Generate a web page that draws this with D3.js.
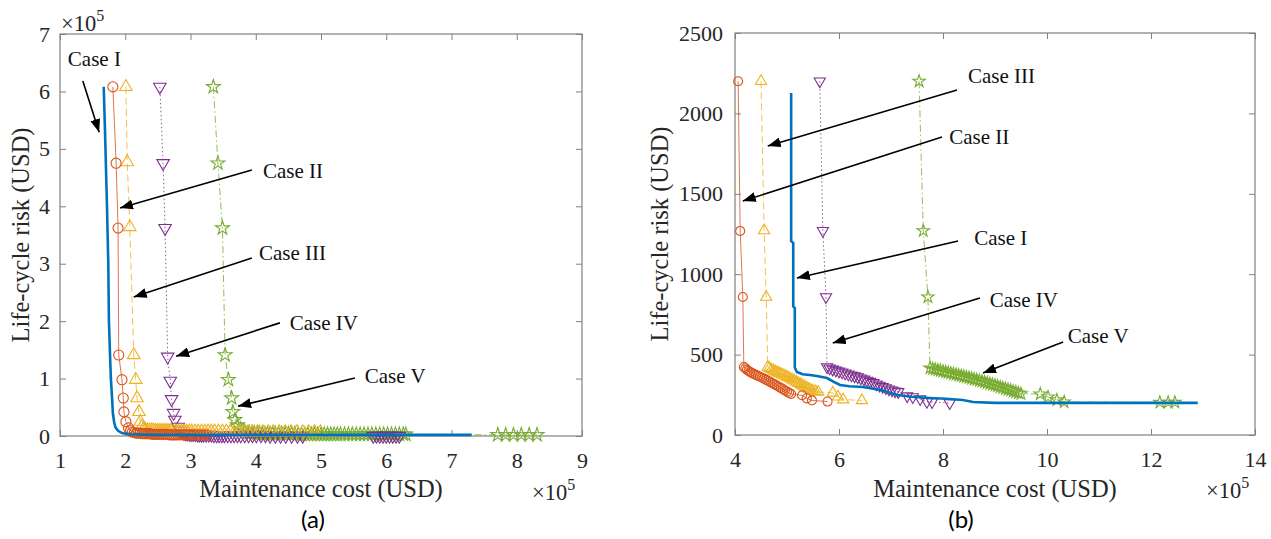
<!DOCTYPE html>
<html>
<head>
<meta charset="utf-8">
<script src="https://cdn.jsdelivr.net/npm/d3@7"></script>
<style>
  body { margin: 0; background: #fff; }
  svg { display: block; }
</style>
</head>
<body>
<div id="chart"></div>
<script>
// ---------------- data (cost in 1e5 USD) ----------------
// panel (a): risk in 1e5 USD
const caseI_a = [[1.67,6.08],[1.69,5.3],[1.72,4.0],[1.74,3.0],[1.75,2.0],[1.77,1.3],[1.78,1.0],[1.80,0.62],[1.81,0.40],[1.83,0.24],[1.85,0.15],[1.89,0.09],[1.95,0.05],[2.05,0.03],[2.4,0.02],[3.5,0.02],[5.0,0.02],[6.3,0.02],[7.31,0.02]];
const caseII_a = [[1.81,6.08],[1.86,4.75],[1.89,3.62],[1.90,1.41],[1.95,0.98],[1.97,0.66],[1.98,0.42],[2.01,0.25],[2.05,0.14],[2.08,0.09],[2.11,0.07],[2.14,0.06],
  [2.17,0.05],[2.20,0.05],[2.23,0.05],[2.26,0.04],[2.29,0.04],[2.32,0.04],[2.35,0.04],[2.38,0.04],[2.41,0.03],[2.44,0.03],[2.47,0.03],[2.50,0.03],[2.53,0.03],[2.56,0.03],[2.59,0.03],[2.62,0.03],[2.65,0.03],[2.68,0.02],[2.71,0.02],[2.74,0.02],[2.77,0.02],[2.80,0.02],[2.84,0.02],[2.88,0.02],[2.92,0.02],[2.96,0.02],[3.00,0.02],[3.05,0.02],[3.10,0.02],[3.15,0.02],[3.20,0.02],[3.25,0.02]];
const caseIII_a = [[2.01,6.08],[2.03,4.77],[2.07,3.64],[2.13,1.41],[2.16,0.98],[2.18,0.66],[2.21,0.42],[2.23,0.25],[2.25,0.16],[2.28,0.12],
  [2.31,0.11],[2.34,0.10],[2.37,0.10],[2.40,0.10],[2.43,0.10],[2.46,0.09],[2.49,0.09],[2.52,0.09],[2.55,0.09],[2.58,0.09],[2.61,0.09],[2.64,0.09],[2.67,0.09],[2.70,0.09],[2.74,0.08],[2.78,0.08],[2.82,0.08],[2.86,0.08],[2.90,0.08],[2.94,0.08],[2.98,0.08],[3.02,0.08],[3.07,0.08],[3.12,0.08],[3.17,0.08],[3.22,0.08],[3.27,0.08],[3.32,0.08],[3.37,0.08],[3.43,0.08],[3.49,0.08],[3.55,0.08],[3.61,0.08],[3.67,0.07],[3.74,0.07],[3.81,0.07],[3.88,0.07],[3.95,0.07],[4.03,0.07],[4.11,0.07],[4.19,0.07],[4.27,0.07],[4.36,0.07],[4.45,0.07],[4.54,0.07],[4.63,0.07],[4.72,0.07],[4.81,0.07],[4.90,0.07],[4.99,0.07]];
const caseIV_a = [[2.53,6.08],[2.58,4.75],[2.61,3.62],[2.65,1.38],[2.69,0.96],[2.71,0.64],[2.74,0.40],[2.76,0.28],[2.81,0.16],[2.85,0.09],[2.90,0.05],
  [2.93,0.04],[2.96,0.04],[2.99,0.03],[3.02,0.03],[3.05,0.03],[3.08,0.03],[3.11,0.02],[3.14,0.02],[3.17,0.02],[3.20,0.02],[3.24,0.02],[3.28,0.02],[3.32,0.02],[3.36,0.01],[3.40,0.01],[3.44,0.01],[3.48,0.01],[3.52,0.01],[3.57,0.01],[3.62,0.01],[3.67,0.01],[3.72,0.01],[3.77,0.01],[3.83,0.01],[3.89,0.01],[3.95,0.01],[4.01,0.01],[4.08,0.01],[4.15,0.01],[4.22,0.0],[4.30,0.0],[4.38,0.0],[4.46,0.0],[4.55,0.0],[4.64,0.0],[4.72,0.0],
  [5.80,0.0],[5.85,0.0],[5.90,0.0],[5.95,0.0],[6.00,0.0],[6.05,0.0],[6.10,0.0],[6.15,0.0],[6.20,0.0]];
const caseV_a = [[3.35,6.08],[3.42,4.75],[3.49,3.62],[3.53,1.41],[3.58,0.98],[3.63,0.66],[3.65,0.42],[3.68,0.28],[3.72,0.19],[3.77,0.12],[3.83,0.08],[3.90,0.06],
  [3.94,0.05],[3.98,0.05],[4.02,0.05],[4.06,0.05],[4.10,0.04],[4.14,0.04],[4.18,0.04],[4.22,0.04],[4.26,0.04],[4.30,0.04],[4.35,0.04],[4.40,0.04],[4.45,0.04],[4.50,0.04],[4.55,0.04],[4.60,0.04],[4.65,0.03],[4.70,0.03],[4.75,0.03],[4.80,0.03],[4.85,0.03],[4.90,0.03],[4.95,0.03],[5.00,0.03],[5.05,0.03],[5.10,0.03],[5.15,0.03],[5.20,0.03],[5.25,0.03],[5.30,0.03],[5.36,0.03],[5.42,0.03],[5.48,0.03],[5.54,0.03],[5.60,0.03],[5.66,0.03],[5.72,0.03],[5.78,0.03],[5.84,0.03],[5.90,0.03],[5.96,0.03],[6.02,0.03],[6.08,0.03],[6.14,0.03],[6.20,0.03],[6.26,0.03],[6.30,0.03],
  [7.71,0.02],[7.83,0.02],[7.95,0.02],[8.07,0.02],[8.19,0.02],[8.31,0.02]];

// panel (b): risk in USD
const caseI_b = [[5.08,2127],[5.08,1800],[5.08,1500],[5.08,1205],[5.12,1195],[5.12,800],[5.15,790],[5.15,420],[5.19,392],[5.30,378],[5.44,373],[5.60,365],[5.77,354],[5.90,330],[6.02,311],[6.20,303],[6.46,299],[6.80,280],[7.12,249],[7.40,238],[7.75,230],[8.05,225],[8.38,218],[8.58,205],[9.0,200],[10.5,200],[12.9,200]];
const caseII_b = [[4.06,2200],[4.10,1269],[4.15,858],[4.17,423],[4.20,415],[4.23,405],[4.26,398],[4.29,392],[4.32,386],[4.36,380],[4.40,374],[4.44,368],[4.48,362],[4.52,356],[4.56,350],[4.60,343],[4.64,336],[4.68,329],[4.72,322],[4.76,315],[4.80,308],[4.84,300],[4.88,293],[4.92,285],[4.96,277],[5.00,270],[5.04,262],[5.08,255],[5.29,247],[5.38,228],[5.48,215],[5.78,208]];
const caseIII_b = [[4.50,2200],[4.56,1272],[4.60,858],[4.63,423],[4.66,415],[4.70,407],[4.74,400],[4.78,394],[4.82,388],[4.86,382],[4.90,376],[4.94,370],[4.98,364],[5.02,358],[5.06,351],[5.10,344],[5.14,337],[5.18,330],[5.22,322],[5.26,315],[5.30,307],[5.34,300],[5.38,293],[5.42,286],[5.46,280],[5.50,274],[5.55,270],[5.60,267],[5.88,262],[5.98,238],[6.08,220],[6.44,215]];
const caseIV_b = [[5.63,2200],[5.69,1270],[5.75,858],[5.77,423],[5.82,415],[5.88,408],[5.94,402],[6.00,396],[6.06,390],[6.12,384],[6.18,378],[6.24,372],[6.30,366],[6.36,360],[6.42,353],[6.48,346],[6.54,339],[6.60,332],[6.66,324],[6.72,316],[6.78,308],[6.84,300],[6.90,292],[6.96,285],[7.02,278],[7.08,272],[7.14,268],[7.31,242],[7.42,236],[7.56,224],[7.69,207],[7.79,205],[8.13,199]];
const caseV_b = [[7.54,2200],[7.62,1270],[7.71,858],[7.75,417],[7.80,412],[7.85,408],[7.90,404],[7.95,400],[8.00,396],[8.05,392],[8.10,388],[8.15,384],[8.20,380],[8.25,376],[8.30,372],[8.35,368],[8.40,364],[8.45,360],[8.50,356],[8.55,352],[8.60,347],[8.65,343],[8.70,338],[8.75,334],[8.80,329],[8.85,324],[8.90,319],[8.95,314],[9.00,309],[9.05,304],[9.10,298],[9.15,293],[9.20,288],[9.25,283],[9.30,278],[9.35,272],[9.40,267],[9.45,261],[9.50,256],[9.87,255],[10.02,236],[10.19,218],[10.33,205],[12.17,203],[12.33,203],[12.46,203]];

const xTicksA = [1,2,3,4,5,6,7,8,9];
const yTicksA = [0,1,2,3,4,5,6,7];
const xTicksB = [4,6,8,10,12,14];
const yTicksB = [0,500,1000,1500,2000,2500];

// annotations: label position, arrow start, arrow tip (data units)
const notesA = [
  {text: "Case I",   tx: 1.12, ty: 6.44, x1: 1.35, y1: 6.18, x2: 1.60, y2: 5.29},
  {text: "Case II",  tx: 4.11, ty: 4.49, x1: 3.94, y1: 4.63, x2: 1.92, y2: 3.97},
  {text: "Case III", tx: 4.05, ty: 3.06, x1: 3.94, y1: 3.10, x2: 2.13, y2: 2.42},
  {text: "Case IV",  tx: 4.52, ty: 1.85, x1: 4.37, y1: 1.97, x2: 2.78, y2: 1.39},
  {text: "Case V",   tx: 5.67, ty: 0.92, x1: 5.52, y1: 1.01, x2: 3.73, y2: 0.52}
];
const notesB = [
  {text: "Case III", tx: 8.48, ty: 2189, x1: 8.27, y1: 2146, x2: 4.63, y2: 1797},
  {text: "Case II",  tx: 8.12, ty: 1810, x1: 7.98, y1: 1853, x2: 4.15, y2: 1455},
  {text: "Case I",   tx: 8.60, ty: 1182, x1: 8.29, y1: 1206, x2: 5.19, y2: 976},
  {text: "Case IV",  tx: 8.90, ty: 796,  x1: 8.71, y1: 852,  x2: 5.88, y2: 572},
  {text: "Case V",   tx: 10.40, ty: 572, x1: 10.31, y1: 578, x2: 8.77, y2: 386}
];

// ---------------- styles ----------------
const serif = "'Liberation Serif', 'Times New Roman', serif";
const styles = {
  I:   {color: "#0072BD", width: 2.6, dash: null,          marker: null},
  II:  {color: "#D95319", width: 1,   dash: null,          marker: "circle"},
  III: {color: "#EDB120", width: 1,   dash: "7,4",         marker: "up"},
  IV:  {color: "#7E2F8E", width: 1,   dash: "1.5,2.5",     marker: "down"},
  V:   {color: "#77AC30", width: 1,   dash: "7,3,1.5,3",   marker: "star"}
};

const W = 1271, H = 539;
const svg = d3.select("#chart").append("svg")
  .attr("width", W).attr("height", H)
  .attr("viewBox", [0, 0, W, H])
  .style("background", "#fff");

const defs = svg.append("defs");
defs.append("marker")
  .attr("id", "arrowhead")
  .attr("markerUnits", "userSpaceOnUse")
  .attr("markerWidth", 14).attr("markerHeight", 10)
  .attr("refX", 13).attr("refY", 5)
  .attr("orient", "auto")
  .append("path")
  .attr("d", "M0,0 L13,5 L0,10 Z")
  .attr("fill", "#000");

function symbolPath(kind, size) {
  if (kind === "circle") return d3.symbol(d3.symbolCircle, size)();
  if (kind === "star") return d3.symbol(d3.symbolStar, size * 0.75)();
  return d3.symbol(d3.symbolTriangle, size * 0.85)();
}

function drawPanel(p) {
  const x = d3.scaleLinear(p.xDomain, p.xRange);
  const y = d3.scaleLinear(p.yDomain, p.yRange);
  const g = svg.append("g");

  // ticks inside the box, on all four sides
  const axisStyle = sel => {
    sel.select(".domain").remove();
    sel.selectAll("line").attr("stroke", "#808080");
    sel.selectAll("text").attr("font-family", serif).attr("font-size", 22).attr("fill", "#262626");
  };
  g.append("g").attr("transform", `translate(0,${p.yRange[0]})`)
    .call(d3.axisBottom(x).tickValues(p.xTicks).tickSize(-6).tickPadding(16).tickFormat(d3.format("d")))
    .call(axisStyle);
  g.append("g").attr("transform", `translate(0,${p.yRange[1]})`)
    .call(d3.axisTop(x).tickValues(p.xTicks).tickSize(-6).tickFormat(""))
    .call(axisStyle);
  g.append("g").attr("transform", `translate(${p.xRange[0]},0)`)
    .call(d3.axisLeft(y).tickValues(p.yTicks).tickSize(-6).tickPadding(p.yPad).tickFormat(d3.format("d")))
    .call(axisStyle);
  g.append("g").attr("transform", `translate(${p.xRange[1]},0)`)
    .call(d3.axisRight(y).tickValues(p.yTicks).tickSize(-6).tickFormat(""))
    .call(axisStyle);

  g.append("rect")
    .attr("x", p.xRange[0]).attr("y", p.yRange[1])
    .attr("width", p.xRange[1] - p.xRange[0])
    .attr("height", p.yRange[0] - p.yRange[1])
    .attr("fill", "none").attr("stroke", "#808080").attr("stroke-width", 1.2);

  // series, drawn in the order V..II then I on top
  const line = d3.line().x(d => x(d[0])).y(d => y(d[1]));
  p.series.forEach(s => {
    const st = styles[s.key];
    g.append("path")
      .datum(s.data)
      .attr("d", line)
      .attr("fill", "none")
      .attr("stroke", st.color)
      .attr("stroke-width", st.width)
      .attr("stroke-dasharray", st.dash)
      .attr("stroke-opacity", st.marker ? 0.8 : 1);
    if (st.marker) {
      g.append("g")
        .selectAll("path")
        .data(s.data)
        .join("path")
        .attr("d", symbolPath(st.marker, p.markerSize))
        .attr("transform", d => `translate(${x(d[0])},${y(d[1])})` + (st.marker === "down" ? " rotate(180)" : ""))
        .attr("fill", "none")
        .attr("stroke", st.color)
        .attr("stroke-width", 1.1);
    }
  });

  // annotations
  p.notes.forEach(n => {
    g.append("line")
      .attr("x1", x(n.x1)).attr("y1", y(n.y1))
      .attr("x2", x(n.x2)).attr("y2", y(n.y2))
      .attr("stroke", "#000").attr("stroke-width", 1.6)
      .attr("marker-end", "url(#arrowhead)");
    g.append("text")
      .attr("x", x(n.tx)).attr("y", y(n.ty))
      .attr("font-family", serif).attr("font-size", 21)
      .attr("fill", "#111")
      .text(n.text);
  });

  // axis titles
  g.append("text")
    .attr("x", (p.xRange[0] + p.xRange[1]) / 2).attr("y", 497)
    .attr("text-anchor", "middle")
    .attr("font-family", serif).attr("font-size", 24.5).attr("fill", "#262626")
    .text("Maintenance cost (USD)");
  g.append("text")
    .attr("transform", `translate(${p.yTitleX},${(p.yRange[0] + p.yRange[1]) / 2}) rotate(-90)`)
    .attr("text-anchor", "middle")
    .attr("font-family", serif).attr("font-size", 24.5).attr("fill", "#262626")
    .text("Life-cycle risk (USD)");

  // exponent labels
  p.exps.forEach(e => {
    const t = g.append("text")
      .attr("x", e[0]).attr("y", e[1])
      .attr("font-family", serif).attr("font-size", 22.5).attr("fill", "#262626");
    t.append("tspan").text("\u00d710");
    t.append("tspan").attr("dy", -10).attr("font-size", 16).text("5");
  });

  // panel letter
  svg.append("text")
    .attr("x", p.letterX).attr("y", 528)
    .attr("text-anchor", "middle")
    .attr("font-family", "Lato, 'Open Sans', sans-serif").attr("font-size", 24).attr("fill", "#000")
    .text(p.letter);
}

drawPanel({
  xDomain: [1, 9], xRange: [60, 582],
  yDomain: [0, 7], yRange: [436, 34],
  xTicks: xTicksA, yTicks: yTicksA, yPad: 10, yTitleX: 29,
  markerSize: 80,
  series: [
    {key: "V", data: caseV_a}, {key: "IV", data: caseIV_a},
    {key: "III", data: caseIII_a}, {key: "II", data: caseII_a},
    {key: "I", data: caseI_a}
  ],
  notes: notesA,
  exps: [[61, 31], [532, 500]],
  letter: "(a)", letterX: 313
});

drawPanel({
  xDomain: [4, 14], xRange: [735, 1255],
  yDomain: [0, 2500], yRange: [435, 33],
  xTicks: xTicksB, yTicks: yTicksB, yPad: 12, yTitleX: 668,
  markerSize: 64,
  series: [
    {key: "V", data: caseV_b}, {key: "IV", data: caseIV_b},
    {key: "III", data: caseIII_b}, {key: "II", data: caseII_b},
    {key: "I", data: caseI_b}
  ],
  notes: notesB,
  exps: [[1206, 498]],
  letter: "(b)", letterX: 961
});
</script>
</body>
</html>
